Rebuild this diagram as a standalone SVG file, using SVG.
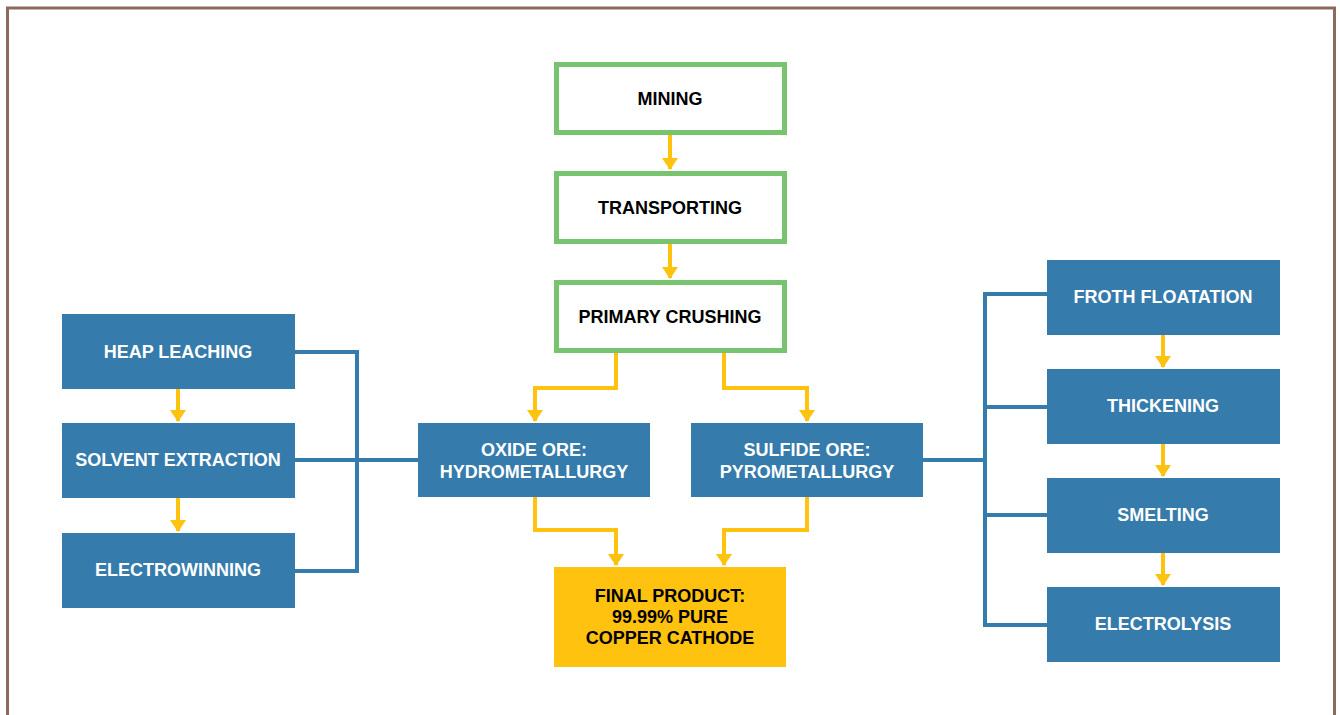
<svg xmlns="http://www.w3.org/2000/svg" width="1340" height="715" viewBox="0 0 1340 715">
<defs>
<style>
.g{fill:#fff;stroke:#77c36f;stroke-width:5}
.b{fill:#357bac}
.y{fill:#ffc20e}
.t{font-family:"Liberation Sans",Arial,sans-serif;font-weight:bold;font-size:18px;text-anchor:middle;dominant-baseline:central}
.tb{fill:#000}
.tw{fill:#fff}
.ya{fill:none;stroke:#ffc20e;stroke-width:4}
.bl{fill:none;stroke:#357bac;stroke-width:4}
</style>
<marker id="ah" viewBox="0 0 12 16" refX="11" refY="8" markerWidth="12" markerHeight="16" markerUnits="userSpaceOnUse" orient="auto">
<path d="M0,0 L12,8 L0,16 Z" fill="#ffc20e"/>
</marker>
</defs>
<rect x="7.5" y="8" width="1327" height="720" fill="#fff" stroke="#8b6b5c" stroke-width="3"/>
<g id="connectors">
<path class="ya" d="M670,134 V169" marker-end="url(#ah)"/>
<path class="ya" d="M670,243 V278" marker-end="url(#ah)"/>
<path class="ya" d="M616,352 V388 H535 V421" marker-end="url(#ah)"/>
<path class="ya" d="M724,352 V388 H807 V421" marker-end="url(#ah)"/>
<path class="ya" d="M535,497 V530 H616 V565" marker-end="url(#ah)"/>
<path class="ya" d="M807,497 V530 H724 V565" marker-end="url(#ah)"/>
<path class="ya" d="M178,389 V421" marker-end="url(#ah)"/>
<path class="ya" d="M178,498 V531" marker-end="url(#ah)"/>
<path class="ya" d="M1163,335 V367" marker-end="url(#ah)"/>
<path class="ya" d="M1163,444 V476" marker-end="url(#ah)"/>
<path class="ya" d="M1163,553 V585" marker-end="url(#ah)"/>
<path class="bl" d="M295,352 H357 V571 H295 M295,460 H418"/>
<path class="bl" d="M1047,294 H985 V625 H1047 M1047,407 H985 M1047,515 H985 M923,460 H985"/>
</g>
<g id="mining"><rect class="g" x="556.5" y="64.5" width="228" height="68"/><text class="t tb" x="670" y="99">MINING</text></g>
<g id="transporting"><rect class="g" x="556.5" y="173.5" width="228" height="68"/><text class="t tb" x="670" y="208">TRANSPORTING</text></g>
<g id="primary-crushing"><rect class="g" x="556.5" y="282.5" width="228" height="68"/><text class="t tb" x="670" y="317">PRIMARY CRUSHING</text></g>
<g id="oxide"><rect class="b" x="418" y="423" width="232" height="74"/><text class="t tw" x="534" y="450">OXIDE ORE:</text><text class="t tw" x="534" y="472">HYDROMETALLURGY</text></g>
<g id="sulfide"><rect class="b" x="691" y="423" width="232" height="74"/><text class="t tw" x="807" y="450">SULFIDE ORE:</text><text class="t tw" x="807" y="472">PYROMETALLURGY</text></g>
<g id="final"><rect class="y" x="554" y="567" width="232" height="100"/><text class="t tb" x="670" y="596">FINAL PRODUCT:</text><text class="t tb" x="670" y="617">99.99% PURE</text><text class="t tb" x="670" y="638">COPPER CATHODE</text></g>
<g id="heap"><rect class="b" x="62" y="314" width="233" height="75"/><text class="t tw" x="178" y="352">HEAP LEACHING</text></g>
<g id="solvent"><rect class="b" x="62" y="423" width="233" height="75"/><text class="t tw" x="178" y="460">SOLVENT EXTRACTION</text></g>
<g id="electrowinning"><rect class="b" x="62" y="533" width="233" height="75"/><text class="t tw" x="178" y="570">ELECTROWINNING</text></g>
<g id="froth"><rect class="b" x="1047" y="260" width="233" height="75"/><text class="t tw" x="1163" y="297">FROTH FLOATATION</text></g>
<g id="thickening"><rect class="b" x="1047" y="369" width="233" height="75"/><text class="t tw" x="1163" y="406">THICKENING</text></g>
<g id="smelting"><rect class="b" x="1047" y="478" width="233" height="75"/><text class="t tw" x="1163" y="515">SMELTING</text></g>
<g id="electrolysis"><rect class="b" x="1047" y="587" width="233" height="75"/><text class="t tw" x="1163" y="624">ELECTROLYSIS</text></g>
</svg>
